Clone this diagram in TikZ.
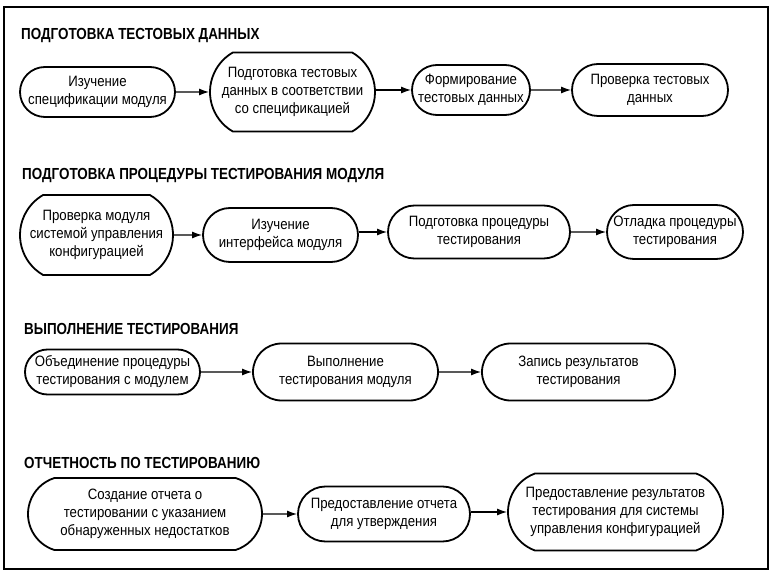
\documentclass[tikz,border=0pt]{standalone}
\usepackage{fontspec}
\setmainfont{Liberation Sans}
\newfontfamily\boxfont[FakeStretch=0.88]{Liberation Sans}
\newfontfamily\headfont[FakeStretch=0.84]{Liberation Sans Bold}
\usetikzlibrary{arrows.meta,shapes.misc}
\tikzset{
  stage/.style={draw, line width=1.8pt, rounded rectangle, rounded rectangle arc length=180,
    align=center, font=\boxfont\fontsize{15}{18}\selectfont, inner sep=0pt},
  tall/.style={rounded rectangle arc length=#1},
  head/.style={anchor=base west, inner sep=0pt, font=\headfont\fontsize{16}{19}\selectfont},
  arr/.style={line width=1.3pt, -{Latex[length=10pt,width=7pt]}}
}
\begin{document}
\begin{tikzpicture}[x=1pt,y=-1pt]
\useasboundingbox (0,0) rectangle (774,577);
\draw[line width=1.8pt] (4,7) rectangle (768,569);

% Row 1
\node[head] (h1) at (21,40) {ПОДГОТОВКА ТЕСТОВЫХ ДАННЫХ};
\node[stage, minimum width=155pt, minimum height=50pt] (n1) at (97.5,92) {Изучение\\спецификации модуля};
\node[stage, tall=120, minimum width=165pt, minimum height=79pt] (n2) at (292.5,92) {Подготовка тестовых\\данных в соответствии\\со спецификацией};
\node[stage, minimum width=118pt, minimum height=50pt] (n3) at (471,90) {Формирование\\тестовых данных};
\node[stage, minimum width=156pt, minimum height=52pt] (n4) at (650,90) {Проверка тестовых\\данных};
\draw[arr] (n1) -- (n2);
\draw[arr] (n2.east |- n3) -- (n3);
\draw[arr] (n3) -- (n4);

% Row 2
\node[head] (h2) at (22,180) {ПОДГОТОВКА ПРОЦЕДУРЫ ТЕСТИРОВАНИЯ МОДУЛЯ};
\node[stage, tall=120, minimum width=153pt, minimum height=80pt] (m1) at (96.5,235) {Проверка модуля\\системой управления\\конфигурацией};
\node[stage, minimum width=155pt, minimum height=54pt] (m2) at (280.5,235) {Изучение\\интерфейса модуля};
\node[stage, minimum width=182pt, minimum height=53pt] (m3) at (479,232) {Подготовка процедуры\\тестирования};
\node[stage, minimum width=136pt, minimum height=54pt] (m4) at (675,232) {Отладка процедуры\\тестирования};
\draw[arr] (m1) -- (m2);
\draw[arr] (m2.east |- m3) -- (m3);
\draw[arr] (m3) -- (m4);

% Row 3
\node[head] (h3) at (24,335) {ВЫПОЛНЕНИЕ ТЕСТИРОВАНИЯ};
\node[stage, minimum width=175pt, minimum height=45pt] (p1) at (112.5,372) {Объединение процедуры\\тестирования с модулем};
\node[stage, minimum width=185pt, minimum height=57pt] (p2) at (345.5,372) {Выполнение\\тестирования модуля};
\node[stage, minimum width=193pt, minimum height=57pt] (p3) at (578.5,372) {Запись результатов\\тестирования};
\draw[arr] (p1) -- (p2);
\draw[arr] (p2) -- (p3);

% Row 4
\node[head] (h4) at (24,468) {ОТЧЕТНОСТЬ ПО ТЕСТИРОВАНИЮ};
\node[stage, tall=145, minimum width=234pt, minimum height=72pt] (q1) at (145,514) {Создание отчета о\\тестировании с указанием\\обнаруженных недостатков};
\node[stage, minimum width=172pt, minimum height=55pt] (q2) at (384,514) {Предоставление отчета\\для утверждения};
\node[stage, tall=140, minimum width=215pt, minimum height=77pt] (q3) at (615.5,512) {Предоставление результатов\\тестирования для системы\\управления конфигурацией};
\draw[arr] (q1) -- (q2);
\draw[arr] (q2.east |- q3) -- (q3);
\end{tikzpicture}
\end{document}
